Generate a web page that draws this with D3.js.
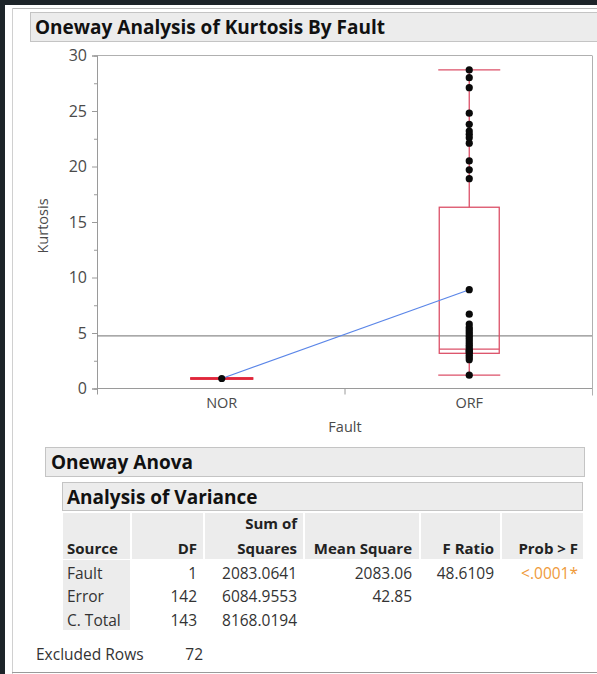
<!DOCTYPE html>
<html><head><meta charset="utf-8">
<script src="https://cdn.jsdelivr.net/npm/d3@7"></script>
<style>
html,body{margin:0;padding:0;background:#1d2429;}
svg{display:block;font-family:"Open Sans","Noto Sans",sans-serif;}
</style></head>
<body>
<svg id="c" width="597" height="674"></svg>
<script>
// ---------- data ----------
const categories = ["NOR", "ORF"];
const norValues = [0.9];
const orfValues = [28.7, 28.0, 27.1, 24.8, 23.8, 23.2, 22.9, 22.6, 22.1, 20.5, 19.7, 18.9,
  8.9, 6.7, 5.8, 5.5, 5.3, 5.1, 4.9, 4.7, 4.5, 4.3, 4.1, 3.9, 3.7, 3.5, 3.4, 3.3, 3.2, 3.0, 2.8, 2.6, 1.2];
const groupMeans = [0.9, 8.9];
const grandMean = 4.75;
// box stats for ORF: [whiskerLow, q1, median, q3, whiskerHigh]
const orfBox = [1.2, 3.17, 3.55, 16.33, 28.7];
const norBox = [0.9, 0.9, 0.9, 0.9, 0.9];
const yTicks = [0, 5, 10, 15, 20, 25, 30];
const yMinorTicks = [2.5, 7.5, 12.5, 17.5, 22.5, 27.5];

const tableSources = ["Fault", "Error", "C. Total"];
const tableDF = ["1", "142", "143"];
const tableSS = ["2083.0641", "6084.9553", "8168.0194"];
const tableMS = ["2083.06", "42.85", ""];
const tableF = ["48.6109", "", ""];
const tableProb = ["<.0001*", "", ""];
const excludedRows = "72";

// ---------- drawing ----------
const svg = d3.select("#c");
svg.append("rect").attr("x", 5).attr("y", 5).attr("width", 592).attr("height", 669).attr("fill", "#ffffff");
svg.append("line").attr("x1", 12).attr("x2", 597).attr("y1", 8.5).attr("y2", 8.5).attr("stroke", "#b8b8b8");
svg.append("line").attr("x1", 12.5).attr("x2", 12.5).attr("y1", 8).attr("y2", 674).attr("stroke", "#d0d0d0");

// title bar
svg.append("rect").attr("x", 30.5).attr("y", 12.5).attr("width", 570).attr("height", 29)
  .attr("fill", "#ececec").attr("stroke", "#c4c4c4");
svg.append("text").attr("x", 35).attr("y", 33.5).attr("font-size", 19).attr("font-weight", "bold")
  .attr("fill", "#111").text("Oneway Analysis of Kurtosis By Fault");

const pLeft = 97, pRight = 592, pTop = 55.5, pBottom = 388.5;
const y = d3.scaleLinear().domain([0, 30]).range([pBottom, pTop]);
const x = d3.scaleBand().domain(categories).range([pLeft, pRight]).padding(0);
const cx = c => x(c) + x.bandwidth() / 2 + 1;

// frame
svg.append("line").attr("x1", pLeft).attr("x2", pRight).attr("y1", pTop).attr("y2", pTop).attr("stroke", "#b0b0b0");
svg.append("line").attr("x1", pRight + 0.5).attr("x2", pRight + 0.5).attr("y1", pTop).attr("y2", pBottom + 7).attr("stroke", "#b0b0b0");

// y axis
const yAxis = svg.append("g").attr("transform", `translate(${pLeft},0)`)
  .call(d3.axisLeft(y).tickValues(yTicks).tickSize(5).tickPadding(5));
svg.append("g").attr("transform", `translate(${pLeft},0)`)
  .call(d3.axisLeft(y).tickValues(yMinorTicks).tickSize(3).tickFormat(""));
svg.selectAll(".domain").attr("stroke", "#9a9a9a");
svg.selectAll(".tick line").attr("stroke", "#9a9a9a");
yAxis.selectAll("text").attr("font-size", 16).attr("fill", "#4a4a4a").attr("font-family", "Open Sans");
svg.append("text").attr("transform", "translate(48,226) rotate(-90)").attr("text-anchor", "middle")
  .attr("font-size", 14.5).attr("fill", "#4a4a4a").text("Kurtosis");

// x axis
svg.append("line").attr("x1", pLeft).attr("x2", pRight).attr("y1", pBottom).attr("y2", pBottom).attr("stroke", "#9a9a9a");
const bounds = categories.map(c => x(c));
svg.selectAll(".xb").data(bounds).enter().append("line")
  .attr("x1", d => d + 0.5).attr("x2", d => d + 0.5).attr("y1", pBottom).attr("y2", pBottom + 6).attr("stroke", "#9a9a9a");
svg.selectAll(".xl").data(categories).enter().append("text")
  .attr("x", d => cx(d)).attr("y", pBottom + 19).attr("text-anchor", "middle")
  .attr("font-size", 14.5).attr("fill", "#4a4a4a").text(d => d);
svg.append("text").attr("x", 345).attr("y", 432).attr("text-anchor", "middle")
  .attr("font-size", 14.5).attr("fill", "#4a4a4a").text("Fault");

// grand mean line
svg.append("line").attr("x1", pLeft).attr("x2", pRight).attr("y1", y(grandMean)).attr("y2", y(grandMean))
  .attr("stroke", "#8c8c8c").attr("stroke-width", 1.2);

// box plots
function drawBox(cat, b, w, col, sw) {
  const c = cx(cat);
  const g = svg.append("g").attr("fill", "none").attr("stroke", col).attr("stroke-width", sw);
  if (b[3] > b[1]) {
    g.append("line").attr("x1", c).attr("x2", c).attr("y1", y(b[0])).attr("y2", y(b[1]));
    g.append("line").attr("x1", c).attr("x2", c).attr("y1", y(b[3])).attr("y2", y(b[4]));
    g.append("rect").attr("x", c - w / 2).attr("y", y(b[3])).attr("width", w).attr("height", y(b[1]) - y(b[3]));
    g.append("line").attr("x1", c - w / 2).attr("x2", c + w / 2).attr("y1", y(b[2])).attr("y2", y(b[2]));
  }
  g.append("line").attr("x1", c - w / 2 - 1).attr("x2", c + w / 2 + 1).attr("y1", y(b[0])).attr("y2", y(b[0]));
  g.append("line").attr("x1", c - w / 2 - 1).attr("x2", c + w / 2 + 1).attr("y1", y(b[4])).attr("y2", y(b[4]));
}
drawBox("ORF", orfBox, 60, "#dc5068", 1.3);
drawBox("NOR", norBox, 61, "#e0263a", 2.4);

// means line
svg.append("path").datum(categories.map((c, i) => [cx(c), y(groupMeans[i])]))
  .attr("d", d3.line()).attr("stroke", "#5b86e8").attr("stroke-width", 1.2).attr("fill", "none");

// points
const pts = norValues.map(v => ["NOR", v]).concat(orfValues.map(v => ["ORF", v]));
svg.selectAll(".pt").data(pts).enter().append("circle")
  .attr("cx", d => cx(d[0])).attr("cy", d => y(d[1])).attr("r", 3.6).attr("fill", "#0a0a0a");

// ---------- ANOVA section ----------
svg.append("rect").attr("x", 45.5).attr("y", 447.5).attr("width", 539).attr("height", 29)
  .attr("fill", "#ececec").attr("stroke", "#c4c4c4");
svg.append("text").attr("x", 51).attr("y", 469).attr("font-size", 19).attr("font-weight", "bold")
  .attr("fill", "#111").text("Oneway Anova");
svg.append("rect").attr("x", 62.5).attr("y", 482.5).attr("width", 520).attr("height", 28)
  .attr("fill", "#ececec").attr("stroke", "#c4c4c4");
svg.append("text").attr("x", 67).attr("y", 503.5).attr("font-size", 19).attr("font-weight", "bold")
  .attr("fill", "#111").text("Analysis of Variance");

const cells = [[63, 130], [132, 203], [205, 303], [305, 419], [421, 500], [502, 583]];
cells.forEach(cl => svg.append("rect").attr("x", cl[0]).attr("y", 513).attr("width", cl[1] - cl[0]).attr("height", 46).attr("fill", "#ececec"));
svg.append("rect").attr("x", 63).attr("y", 560).attr("width", 67).attr("height", 70).attr("fill", "#ececec");

const hdr = { size: 15, weight: "bold", fill: "#222" };
function txt(xp, yp, s, anchor, o) {
  return svg.append("text").attr("x", xp).attr("y", yp).attr("text-anchor", anchor)
    .attr("font-size", o.size).attr("font-weight", o.weight || "normal").attr("fill", o.fill).text(s);
}
txt(297, 529, "Sum of", "end", hdr);
const headers = [["Source", 67, "start"], ["DF", 197, "end"], ["Squares", 297, "end"], ["Mean Square", 412, "end"], ["F Ratio", 494, "end"], ["Prob > F", 578, "end"]];
headers.forEach(h => txt(h[1], 554, h[0], h[2], hdr));

const body = { size: 15.5, fill: "#333" };
const rowY = [578.5, 602, 625.5];
tableSources.forEach((s, i) => {
  txt(67, rowY[i], s, "start", body);
  txt(197, rowY[i], tableDF[i], "end", body);
  txt(297, rowY[i], tableSS[i], "end", body);
  txt(412, rowY[i], tableMS[i], "end", body);
  txt(494, rowY[i], tableF[i], "end", body);
  txt(578, rowY[i], tableProb[i], "end", { size: 15.5, fill: "#ef9a3a" });
});
txt(36, 660, "Excluded Rows", "start", body);
txt(203, 660, excludedRows, "end", body);
svg.append("line").attr("x1", 12).attr("x2", 597).attr("y1", 672.5).attr("y2", 672.5).attr("stroke", "#9a9a9a");
</script>
</body></html>
